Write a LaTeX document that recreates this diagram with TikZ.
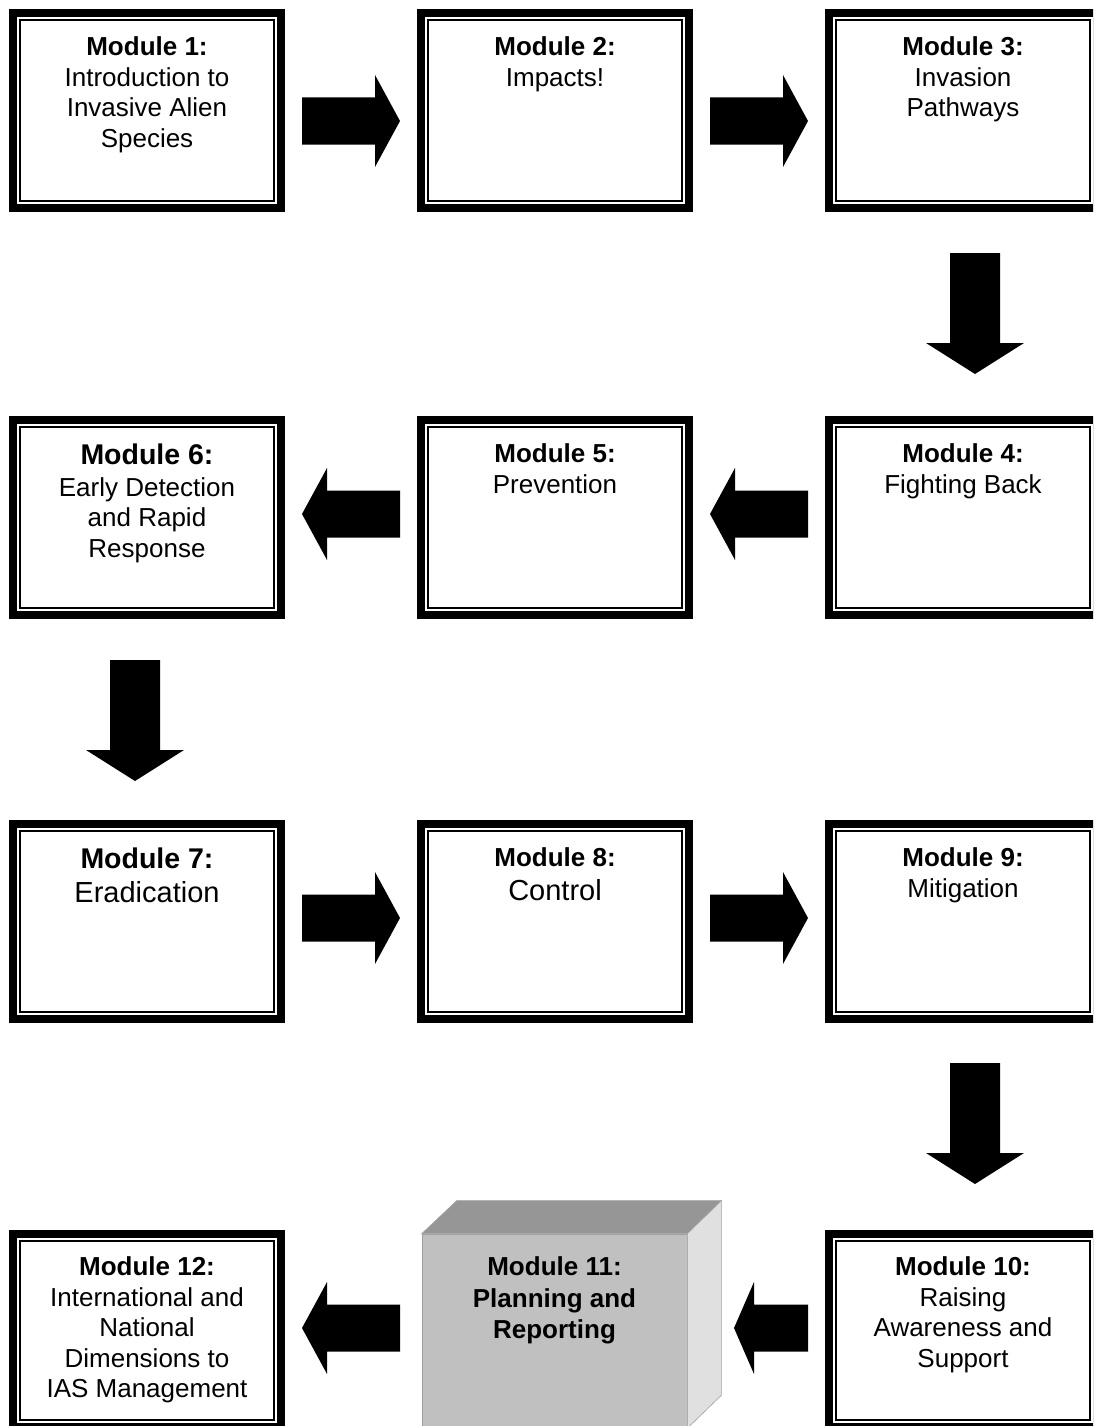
\documentclass[tikz,border=0pt]{standalone}
\usepackage{fontspec}
\setmainfont{Liberation Sans}
\usetikzlibrary{calc}
\definecolor{cubefront}{HTML}{C0C0C0}
\definecolor{cubetop}{HTML}{969696}
\definecolor{cubeside}{HTML}{E0E0E0}
\definecolor{cubeedge}{HTML}{A0A0A0}
\tikzset{
  modbox/.style={draw=black, line width=8pt, fill=white, minimum width=268pt,
    minimum height=195pt, inner sep=0pt,
    path picture={\draw[line width=2.2pt]
      ([shift={(7.1pt,-7.1pt)}]path picture bounding box.north west) rectangle
      ([shift={(-7.1pt,7.1pt)}]path picture bounding box.south east);}},
  lastrow/.style={minimum height=193pt},
  cubebox/.style={draw=cubeedge, line width=0.6pt, fill=cubefront,
    minimum width=265pt, minimum height=194pt, inner sep=0pt},
  modtext/.style={anchor=north, align=center, inner sep=0pt,
    font=\fontsize{26}{30.5}\selectfont},
  blockarrow/.style n args={3}{fill=black, to path={
    ($(\tikztostart)!#1!90:(\tikztotarget)$) --
    ($($(\tikztotarget)!#3!(\tikztostart)$)!#1!90:(\tikztotarget)$) --
    ($($(\tikztotarget)!#3!(\tikztostart)$)!#2!90:(\tikztotarget)$) --
    (\tikztotarget) --
    ($($(\tikztotarget)!#3!(\tikztostart)$)!#2!-90:(\tikztotarget)$) --
    ($($(\tikztotarget)!#3!(\tikztostart)$)!#1!-90:(\tikztotarget)$) --
    ($(\tikztostart)!#1!-90:(\tikztotarget)$) -- cycle}},
  harrow/.style={blockarrow={23.5pt}{46pt}{25pt}},
  shortarrow/.style={blockarrow={23.5pt}{46pt}{20pt}},
  varrow/.style={blockarrow={25pt}{49pt}{31pt}}
}
\begin{document}
\begin{tikzpicture}[x=1pt,y=-1pt]
\useasboundingbox (0,0) rectangle (1093,1426);
\fill[white] (0,0) rectangle (1093,1426);
\clip (0,0) rectangle (1093,1426);

% boxes
\node[modbox] (b1) at (147,110.5) {};
\node[modbox] (b2) at (555,110.5) {};
\node[modbox] (b3) at (963,110.5) {};
\node[modbox] (b4) at (963,517.5) {};
\node[modbox] (b5) at (555,517.5) {};
\node[modbox] (b6) at (147,517.5) {};
\node[modbox] (b7) at (147,921.5) {};
\node[modbox] (b8) at (555,921.5) {};
\node[modbox] (b9) at (963,921.5) {};
\node[modbox,lastrow] (b10) at (963,1330.5) {};
\node[modbox,lastrow] (b12) at (147,1330.5) {};
\node[cubebox] (b11) at (554.5,1331) {};
\filldraw[fill=cubetop, draw=cubeedge, line width=0.6pt]
  (b11.north west) -- ($(b11.north west)+(35,-33)$) -- ($(b11.north east)+(34,-33)$)
  -- (b11.north east) -- cycle;
\filldraw[fill=cubeside, draw=cubeedge, line width=0.6pt]
  (b11.north east) -- ($(b11.north east)+(34,-33)$) -- ($(b11.south east)+(34,-33)$)
  -- (b11.south east) -- cycle;

% texts
\node[modtext] (t1) at ($(b1.north)+(0,27.7)$) {\textbf{Module 1:}\\Introduction to\\Invasive Alien\\Species};
\node[modtext] (t2) at ($(b2.north)+(0,27.7)$) {\textbf{Module 2:}\\Impacts!};
\node[modtext] (t3) at ($(b3.north)+(0,27.7)$) {\textbf{Module 3:}\\Invasion\\Pathways};
\node[modtext] (t4) at ($(b4.north)+(0,27.7)$) {\textbf{Module 4:}\\Fighting Back};
\node[modtext] (t5) at ($(b5.north)+(0,27.7)$) {\textbf{Module 5:}\\Prevention};
\node[modtext] (t6) at ($(b6.north)+(0,27.5)$) {{\bfseries\fontsize{28.5}{30.5}\selectfont Module 6:}\\[1.5pt]Early Detection\\and Rapid\\Response};
\node[modtext] (t7) at ($(b7.north)+(0,27.5)$) {{\bfseries\fontsize{28.5}{30.5}\selectfont Module 7:}\\[3.5pt]{\fontsize{29}{30.5}\selectfont Eradication}};
\node[modtext] (t8) at ($(b8.north)+(0,27.7)$) {\textbf{Module 8:}\\[3.5pt]{\fontsize{29}{30.5}\selectfont Control}};
\node[modtext] (t9) at ($(b9.north)+(0,27.7)$) {\textbf{Module 9:}\\Mitigation};
\node[modtext] (t10) at ($(b10.north)+(0,26.7)$) {\textbf{Module 10:}\\Raising\\Awareness and\\Support};
\node[modtext, font=\bfseries\fontsize{26}{31.5}\selectfont] (t11) at ($(b11.north)+(0,23)$) {Module 11:\\Planning and\\Reporting};
\node[modtext] (t12) at ($(b12.north)+(0,26.7)$) {\textbf{Module 12:}\\International and\\National\\Dimensions to\\IAS Management};

% arrows
\fill[harrow] ($(b1.north east)+(17,112)$) to ($(b2.north west)+(-17,112)$);
\fill[harrow] ($(b2.north east)+(17,112)$) to ($(b3.north west)+(-17,112)$);
\fill[varrow] ($(b3.south)+(12,41)$) to ($(b4.north)+(12,-42)$);
\fill[harrow] ($(b4.north west)+(-17,98)$) to ($(b5.north east)+(17,98)$);
\fill[harrow] ($(b5.north west)+(-17,98)$) to ($(b6.north east)+(17,98)$);
\fill[varrow] ($(b6.south)+(-12,41)$) to ($(b7.north)+(-12,-39)$);
\fill[harrow] ($(b7.north east)+(17,98)$) to ($(b8.north west)+(-17,98)$);
\fill[harrow] ($(b8.north east)+(17,98)$) to ($(b9.north west)+(-17,98)$);
\fill[varrow] ($(b9.south)+(12,40)$) to ($(b10.north)+(12,-46)$);
\fill[shortarrow] ($(b10.north west)+(-17,98)$) to ($(b11.north east)+(46.7,94.3)$);
\fill[harrow] ($(b11.north west)+(-21.7,94.3)$) to ($(b12.north east)+(17,98)$);
\end{tikzpicture}
\end{document}
